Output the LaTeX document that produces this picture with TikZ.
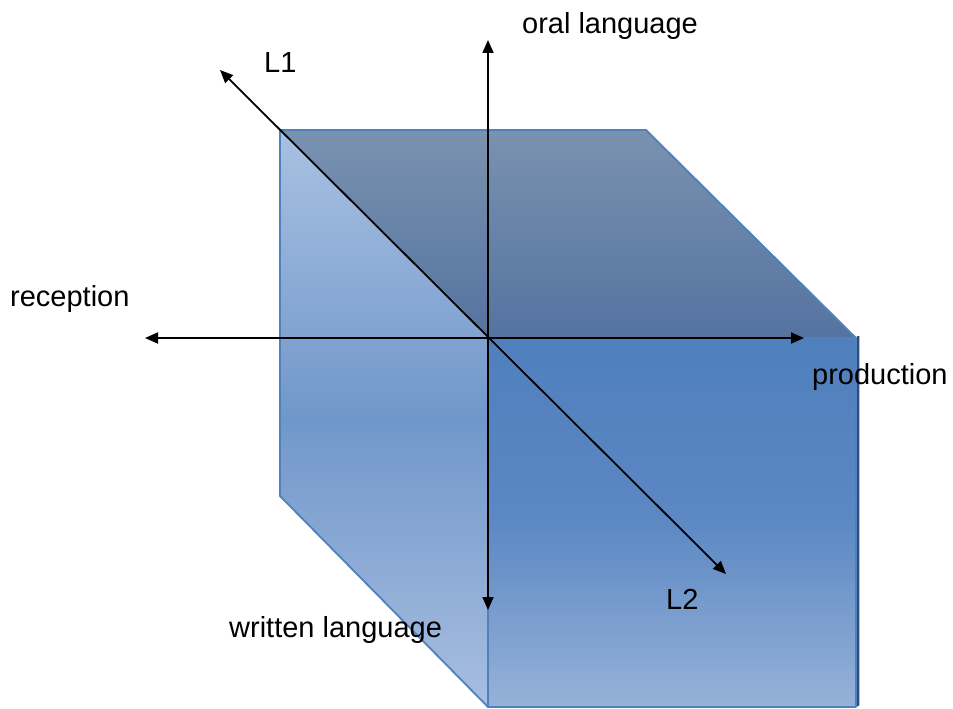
\documentclass[tikz,border=0pt]{standalone}
\usepackage{fontspec}
\setmainfont{Liberation Sans}
\usetikzlibrary{arrows.meta}
\definecolor{edge}{HTML}{4F81BD}
\definecolor{shadowc}{HTML}{2F4F7A}
\begin{document}
\begin{tikzpicture}[x=1pt,y=-1pt,
  axis/.style={black,line width=1.8pt,{Triangle[length=13pt,width=11pt]}-{Triangle[length=13pt,width=11pt]}},
  lbl/.style={font=\fontsize{29}{34}\selectfont,inner sep=0pt}]
\useasboundingbox (0,0) rectangle (953,709);
% corners
\coordinate (A) at (280,130);
\coordinate (B) at (646,130);
\coordinate (C) at (856,338);
\coordinate (O) at (488,338);
\coordinate (D) at (856,707);
\coordinate (E) at (488,707);
\coordinate (F) at (280,496);
% shadows
\draw[shadowc,line width=2.5pt,line join=round] ([xshift=1.2pt,yshift=2pt]F) -- ([xshift=1.2pt,yshift=2pt]E) -- ([xshift=2pt,yshift=2pt]D) -- ([xshift=2pt,yshift=2pt]C);
% faces
\shade[top color={rgb,255:red,122;green,146;blue,176},bottom color={rgb,255:red,84;green,115;blue,160}] (A) -- (B) -- (C) -- (O) -- cycle;
\shade[top color={rgb,255:red,169;green,193;blue,226},bottom color={rgb,255:red,168;green,190;blue,224},middle color={rgb,255:red,112;green,151;blue,202}] (A) -- (O) -- (E) -- (F) -- cycle;
\shade[top color={rgb,255:red,79;green,127;blue,189},bottom color={rgb,255:red,150;green,178;blue,216},middle color={rgb,255:red,92;green,136;blue,196}] (O) -- (C) -- (D) -- (E) -- cycle;
\draw[edge,line width=1.8pt,line join=round] (A) -- (B) -- (C) -- (D) -- (E) -- (F) -- cycle;
\draw[edge,line width=1.2pt] (O) -- (C) (O) -- (E);
% axis endpoints
\coordinate (up) at (488,40);
\coordinate (down) at (488,610);
\coordinate (left) at (145,338);
\coordinate (right) at (804,338);
\coordinate (ul) at (220,70);
\coordinate (lr) at (726,574);
\draw[axis] (down) -- (up);
\draw[axis] (left) -- (right);
\draw[axis] (ul) -- (lr);
% labels
\node[lbl,anchor=base] (oral) at (610,34) {oral language};
\node[lbl,anchor=base west] (l1) at (264,73) {L1};
\node[lbl,anchor=base west] (rec) at (10,306) {reception};
\node[lbl,anchor=base west] (prod) at (812,384) {production};
\node[lbl,anchor=base west] (writ) at (229,637) {written language};
\node[lbl,anchor=base west] (l2) at (666,609) {L2};
\end{tikzpicture}
\end{document}
